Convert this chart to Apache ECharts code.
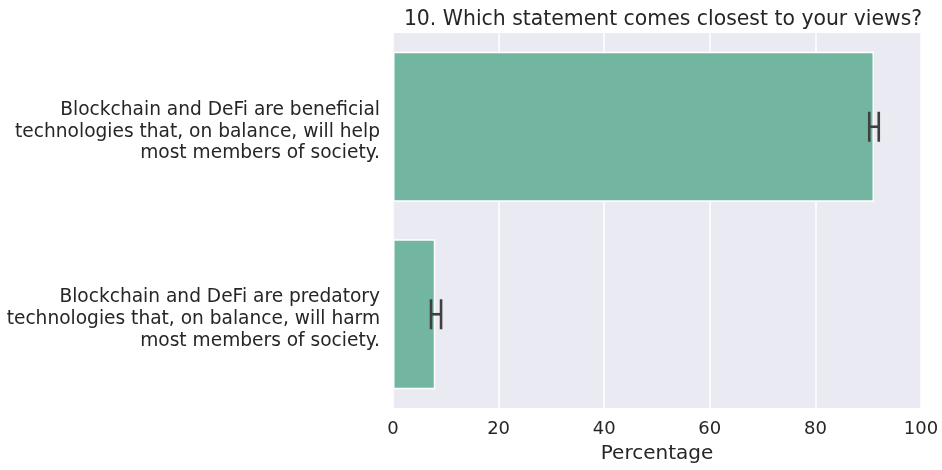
<!DOCTYPE html>
<html><head><meta charset="utf-8">
<script src="https://cdn.jsdelivr.net/npm/echarts@6/dist/echarts.min.js"></script>
<style>html,body{margin:0;padding:0;background:#fff}#c{width:942px;height:470px}</style>
</head><body><div id="c"></div>
<script>
const categories = [
  "Blockchain and DeFi are beneficial\ntechnologies that, on balance, will help\nmost members of society.",
  "Blockchain and DeFi are predatory\ntechnologies that, on balance, will harm\nmost members of society."
];
const values = [91.1, 8.0];
const errLow = [90.2, 7.2];
const errHigh = [92.0, 9.1];
const xTicks = [0, 20, 40, 60, 80, 100];

const chart = echarts.init(document.getElementById('c'));
const font = 'DejaVu Sans';
chart.setOption({
  backgroundColor: '#fff',
  animation: false,
  title: {
    text: '10. Which statement comes closest to your views?',
    left: 658, top: 5, textAlign: 'center',
    textStyle: {fontFamily: font, fontSize: 20.4, fontWeight: 'normal', color: '#262626'}
  },
  grid: {left: 393, right: 21, top: 33, bottom: 62, show: true, backgroundColor: '#EAEAF2', borderWidth: 0},
  xAxis: {
    type: 'value', min: 0, max: 100, interval: 20,
    name: 'Percentage', nameLocation: 'middle', nameGap: 36,
    nameTextStyle: {fontFamily: font, fontSize: 20, color: '#262626'},
    axisLine: {show: false}, axisTick: {show: false},
    axisLabel: {fontFamily: font, fontSize: 18, color: '#262626', margin: 12,
      formatter: v => xTicks.includes(v) ? String(v) : ''},
    splitLine: {show: true, lineStyle: {color: '#fff', width: 1.5}}
  },
  yAxis: {
    type: 'category', data: categories, inverse: true,
    axisLine: {show: false}, axisTick: {show: false},
    axisLabel: {fontFamily: font, fontSize: 18.6, color: '#262626', margin: 13, align: 'right',
      formatter: v => '{s| }\n' + v.split('\n').map(l => '{a|' + l + '}').join('\n'),
      rich: {
        s: {fontSize: 1, lineHeight: 10},
        a: {fontFamily: font, fontSize: 18.6, color: '#262626', lineHeight: 21.8, align: 'right'}
      }},
    splitLine: {show: false}
  },
  series: [
    {
      type: 'bar', data: values, barWidth: '80%',
      itemStyle: {color: '#72B6A1', borderColor: '#fff', borderWidth: 1.5}
    },
    {
      type: 'custom',
      data: categories.map((c, i) => [i, errLow[i], errHigh[i]]),
      renderItem: function (params, api) {
        const yi = api.value(0);
        const p1 = api.coord([api.value(1), yi]);
        const p2 = api.coord([api.value(2), yi]);
        const h = 15;
        const st = {stroke: '#3F3F3F', lineWidth: 2.6};
        return {type: 'group', children: [
          {type: 'line', shape: {x1: p1[0], y1: p1[1], x2: p2[0], y2: p2[1]}, style: st},
          {type: 'line', shape: {x1: p1[0], y1: p1[1] - h, x2: p1[0], y2: p1[1] + h}, style: st},
          {type: 'line', shape: {x1: p2[0], y1: p2[1] - h, x2: p2[0], y2: p2[1] + h}, style: st}
        ]};
      },
      encode: {y: 0, x: [1, 2]},
      z: 5
    }
  ]
});
</script></body></html>
